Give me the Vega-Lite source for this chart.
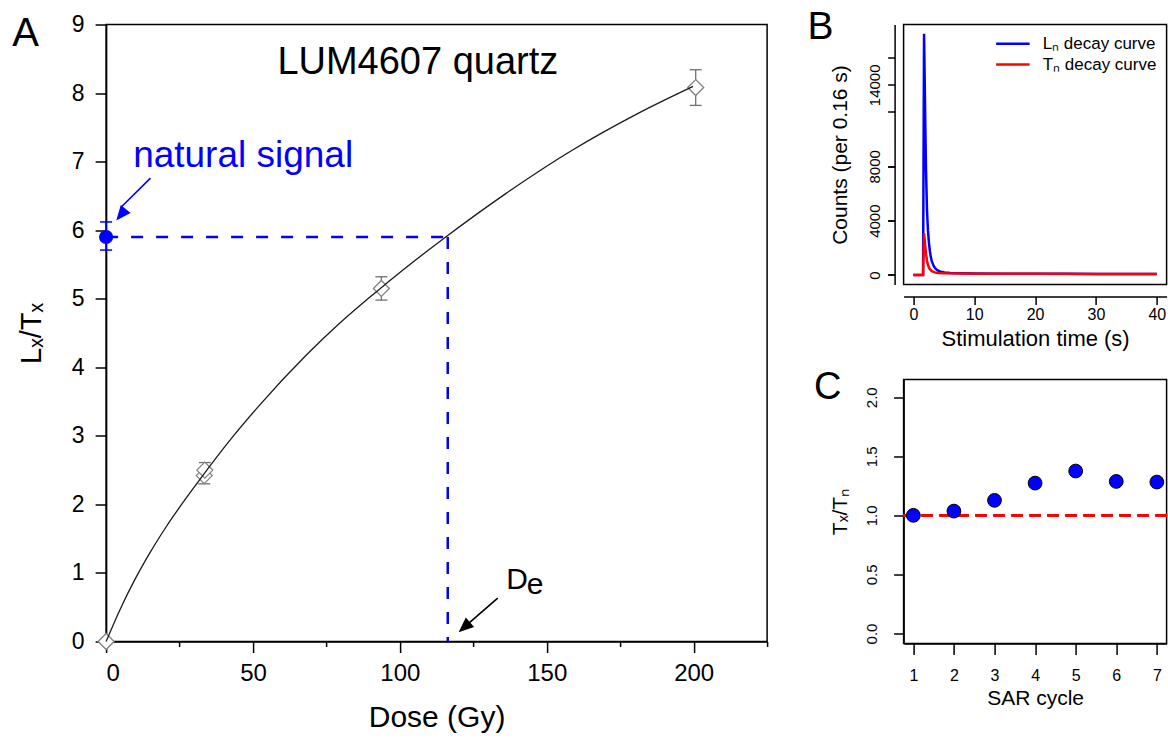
{
  "$schema": "https://vega.github.io/schema/vega-lite/v6.json",
  "background": "white",
  "padding": {"left": 11.1, "top": 6.5, "right": 0, "bottom": 0},
  "bounds": "flush",
  "spacing": 136.5,
  "config": {
    "font": "Liberation Sans",
    "view": {"stroke": "black", "strokeWidth": 1.5},
    "axis": {
      "grid": false,
      "domainColor": "black",
      "tickColor": "black",
      "labelColor": "black",
      "titleColor": "black",
      "titleFontWeight": "normal",
      "domainWidth": 1.5,
      "tickWidth": 1.5
    },
    "title": {"fontWeight": "normal", "color": "black"}
  },
  "datasets": {
    "fitCurve": [
      {"dose": 0, "ratio": 0},
      {"dose": 5, "ratio": 0.49},
      {"dose": 10, "ratio": 0.92},
      {"dose": 15, "ratio": 1.3},
      {"dose": 20.4, "ratio": 1.67},
      {"dose": 31.7, "ratio": 2.35},
      {"dose": 43.0, "ratio": 2.98},
      {"dose": 52.1, "ratio": 3.44},
      {"dose": 68.0, "ratio": 4.171},
      {"dose": 79.3, "ratio": 4.634},
      {"dose": 90.6, "ratio": 5.052},
      {"dose": 101.9, "ratio": 5.448},
      {"dose": 115.5, "ratio": 5.897},
      {"dose": 135.8, "ratio": 6.526},
      {"dose": 158.5, "ratio": 7.162},
      {"dose": 181.1, "ratio": 7.704},
      {"dose": 199.8, "ratio": 8.097}
    ],
    "regenPoints": [
      {"dose": 0, "ratio": 0, "lo": -0.03, "hi": 0.03},
      {"dose": 33.4, "ratio": 2.42, "lo": 2.3, "hi": 2.52},
      {"dose": 33.6, "ratio": 2.5, "lo": 2.4, "hi": 2.61},
      {"dose": 93.7, "ratio": 5.15, "lo": 4.98, "hi": 5.32},
      {"dose": 200.7, "ratio": 8.08, "lo": 7.82, "hi": 8.34}
    ],
    "natural": [
      {"De": 116.3, "Ln": 5.9, "lo": 5.71, "hi": 6.12, "origin": 0}
    ],
    "decay": [
      {"t": 0, "counts": 0, "curve": "Ln"},
      {"t": 1.6, "counts": 0, "curve": "Ln"},
      {"t": 1.76, "counts": 17750, "curve": "Ln"},
      {"t": 1.92, "counts": 12500, "curve": "Ln"},
      {"t": 2.08, "counts": 7800, "curve": "Ln"},
      {"t": 2.24, "counts": 4800, "curve": "Ln"},
      {"t": 2.4, "counts": 3300, "curve": "Ln"},
      {"t": 2.56, "counts": 2400, "curve": "Ln"},
      {"t": 2.72, "counts": 1750, "curve": "Ln"},
      {"t": 2.88, "counts": 1300, "curve": "Ln"},
      {"t": 3.04, "counts": 1000, "curve": "Ln"},
      {"t": 3.36, "counts": 650, "curve": "Ln"},
      {"t": 3.68, "counts": 450, "curve": "Ln"},
      {"t": 4.0, "counts": 330, "curve": "Ln"},
      {"t": 4.48, "counts": 240, "curve": "Ln"},
      {"t": 5.12, "counts": 180, "curve": "Ln"},
      {"t": 6.08, "counts": 150, "curve": "Ln"},
      {"t": 8.0, "counts": 125, "curve": "Ln"},
      {"t": 10.08, "counts": 110, "curve": "Ln"},
      {"t": 15.04, "counts": 100, "curve": "Ln"},
      {"t": 20.0, "counts": 90, "curve": "Ln"},
      {"t": 25.12, "counts": 85, "curve": "Ln"},
      {"t": 30.08, "counts": 80, "curve": "Ln"},
      {"t": 35.04, "counts": 75, "curve": "Ln"},
      {"t": 40.0, "counts": 70, "curve": "Ln"},
      {"t": 0, "counts": 0, "curve": "Tn"},
      {"t": 1.6, "counts": 0, "curve": "Tn"},
      {"t": 1.76, "counts": 3080, "curve": "Tn"},
      {"t": 1.92, "counts": 2300, "curve": "Tn"},
      {"t": 2.08, "counts": 1550, "curve": "Tn"},
      {"t": 2.24, "counts": 1050, "curve": "Tn"},
      {"t": 2.4, "counts": 750, "curve": "Tn"},
      {"t": 2.56, "counts": 560, "curve": "Tn"},
      {"t": 2.72, "counts": 430, "curve": "Tn"},
      {"t": 3.04, "counts": 280, "curve": "Tn"},
      {"t": 3.52, "counts": 190, "curve": "Tn"},
      {"t": 4.0, "counts": 150, "curve": "Tn"},
      {"t": 5.12, "counts": 120, "curve": "Tn"},
      {"t": 10.08, "counts": 95, "curve": "Tn"},
      {"t": 20.0, "counts": 85, "curve": "Tn"},
      {"t": 30.08, "counts": 80, "curve": "Tn"},
      {"t": 40.0, "counts": 75, "curve": "Tn"}
    ],
    "sensitivity": [
      {"cycle": 1, "ratio": 1.0},
      {"cycle": 2, "ratio": 1.036},
      {"cycle": 3, "ratio": 1.127},
      {"cycle": 4, "ratio": 1.273},
      {"cycle": 5, "ratio": 1.375},
      {"cycle": 6, "ratio": 1.287},
      {"cycle": 7, "ratio": 1.282}
    ]
  },
  "hconcat": [
    {
      "width": 661,
      "height": 617,
      "title": {"text": "A", "anchor": "start", "frame": "bounds", "fontSize": 40, "offset": -40, "dx": -5},
      "data": {"name": "natural"},
      "resolve": {"axis": {"x": "independent"}},
      "layer": [
        {
          "layer": [
            {
              "data": {"name": "regenPoints"},
              "mark": {"type": "rule", "color": "#707070", "strokeWidth": 1.3},
              "encoding": {
                "x": {"field": "dose", "type": "quantitative", "scale": {"domain": [0, 225], "nice": false, "zero": false},
                  "axis": {"values": [0, 50, 100, 150, 200], "tickSize": 11, "labelFontSize": 24, "labelPadding": 9, "title": "Dose (Gy)", "titleFontSize": 30, "titlePadding": 17}},
                "y": {"field": "lo", "type": "quantitative", "scale": {"domain": [0, 9], "nice": false, "zero": false},
                  "axis": {"values": [0, 1, 2, 3, 4, 5, 6, 7, 8, 9], "format": "d", "tickSize": 11, "labelFontSize": 23, "labelPadding": 11, "title": "Lₓ/Tₓ", "titleFontSize": 29, "titlePadding": 25}},
                "y2": {"field": "hi"}
              }
            },
            {
              "data": {"name": "regenPoints"},
              "mark": {"type": "point", "shape": "stroke", "size": 144, "stroke": "#707070", "strokeWidth": 1.3, "opacity": 1},
              "encoding": {
                "x": {"field": "dose", "type": "quantitative"},
                "y": {"field": "lo", "type": "quantitative"}
              }
            },
            {
              "data": {"name": "regenPoints"},
              "mark": {"type": "point", "shape": "stroke", "size": 144, "stroke": "#707070", "strokeWidth": 1.3, "opacity": 1},
              "encoding": {
                "x": {"field": "dose", "type": "quantitative"},
                "y": {"field": "hi", "type": "quantitative"}
              }
            },
            {
              "data": {"name": "regenPoints"},
              "mark": {"type": "point", "shape": "diamond", "size": 256, "filled": false, "fill": "white", "fillOpacity": 1, "stroke": "#808080", "strokeWidth": 1.3, "opacity": 1},
              "encoding": {
                "x": {"field": "dose", "type": "quantitative"},
                "y": {"field": "ratio", "type": "quantitative"}
              }
            },
            {
              "data": {"name": "fitCurve"},
              "mark": {"type": "line", "color": "#1a1a1a", "strokeWidth": 1.3, "interpolate": "monotone"},
              "encoding": {
                "x": {"field": "dose", "type": "quantitative"},
                "y": {"field": "ratio", "type": "quantitative"}
              }
            },
            {
              "mark": {"type": "rule", "color": "#0000FF", "strokeWidth": 2.5, "strokeDash": [12, 13]},
              "encoding": {
                "x": {"field": "origin", "type": "quantitative"},
                "x2": {"field": "De"},
                "y": {"field": "Ln", "type": "quantitative"}
              }
            },
            {
              "mark": {"type": "rule", "color": "#0000FF", "strokeWidth": 2.5, "strokeDash": [12, 13]},
              "encoding": {
                "x": {"field": "De", "type": "quantitative"},
                "y": {"field": "Ln", "type": "quantitative"},
                "y2": {"field": "origin"}
              }
            },
            {
              "mark": {"type": "rule", "color": "#0000FF", "strokeWidth": 1.5},
              "encoding": {
                "x": {"field": "origin", "type": "quantitative"},
                "y": {"field": "lo", "type": "quantitative"},
                "y2": {"field": "hi"}
              }
            },
            {
              "mark": {"type": "point", "shape": "stroke", "size": 144, "stroke": "#0000FF", "strokeWidth": 1.5, "opacity": 1},
              "encoding": {
                "x": {"field": "origin", "type": "quantitative"},
                "y": {"field": "lo", "type": "quantitative"}
              }
            },
            {
              "mark": {"type": "point", "shape": "stroke", "size": 144, "stroke": "#0000FF", "strokeWidth": 1.5, "opacity": 1},
              "encoding": {
                "x": {"field": "origin", "type": "quantitative"},
                "y": {"field": "hi", "type": "quantitative"}
              }
            },
            {
              "mark": {"type": "point", "shape": "circle", "size": 200, "filled": true, "color": "#0000FF", "opacity": 1},
              "encoding": {
                "x": {"field": "origin", "type": "quantitative"},
                "y": {"field": "Ln", "type": "quantitative"}
              }
            },
            {
              "mark": {"type": "rule", "color": "#0000FF", "strokeWidth": 1.6},
              "encoding": {
                "x": {"datum": 15.1},
                "y": {"datum": 6.76},
                "x2": {"datum": 5.0},
                "y2": {"datum": 6.33}
              }
            },
            {
              "mark": {"type": "point", "shape": "M0,0L-0.42,1L0.42,1Z", "size": 900, "filled": true, "color": "#0000FF", "opacity": 1, "angle": 219},
              "encoding": {
                "x": {"datum": 3.46},
                "y": {"datum": 6.14}
              }
            },
            {
              "mark": {"type": "rule", "color": "black", "strokeWidth": 1.6},
              "encoding": {
                "x": {"datum": 133.3},
                "y": {"datum": 0.632},
                "x2": {"datum": 123.0},
                "y2": {"datum": 0.25}
              }
            },
            {
              "mark": {"type": "point", "shape": "M0,0L-0.42,1L0.42,1Z", "size": 900, "filled": true, "color": "black", "opacity": 1, "angle": 229},
              "encoding": {
                "x": {"datum": 120.0},
                "y": {"datum": 0.136}
              }
            },
            {
              "mark": {"type": "text", "text": "LUM4607 quartz", "fontSize": 38, "align": "center", "baseline": "alphabetic", "color": "black"},
              "encoding": {
                "x": {"datum": 106.1},
                "y": {"datum": 8.28}
              }
            },
            {
              "mark": {"type": "text", "text": "natural signal", "fontSize": 37, "align": "left", "baseline": "alphabetic", "color": "#0000FF"},
              "encoding": {
                "x": {"datum": 9.2},
                "y": {"datum": 6.92}
              }
            },
            {
              "mark": {"type": "text", "text": "D", "fontSize": 30, "align": "left", "baseline": "alphabetic", "color": "black"},
              "encoding": {
                "x": {"datum": 136.2},
                "y": {"datum": 0.767}
              }
            },
            {
              "mark": {"type": "text", "text": "e", "fontSize": 30, "align": "left", "baseline": "alphabetic", "color": "black"},
              "encoding": {
                "x": {"datum": 143.2},
                "y": {"datum": 0.686}
              }
            }
          ]
        },
        {
          "data": {"name": "regenPoints"},
          "mark": {"type": "point", "opacity": 0},
          "encoding": {
            "x": {"field": "dose", "type": "quantitative",
              "axis": {"orient": "bottom", "values": [25, 75, 125, 175, 225], "tickSize": 5, "labels": false, "domain": false, "title": null}}
          }
        }
      ]
    },
    {
      "vconcat": [
        {
          "width": 263,
          "height": 260,
          "title": {"text": "B", "anchor": "start", "frame": "bounds", "fontSize": 39, "offset": -22, "dx": -22},
          "data": {"name": "decay"},
          "resolve": {"axis": {"y": "independent"}},
          "layer": [
            {
              "layer": [
                {
                  "mark": {"type": "line", "strokeWidth": 2.5, "interpolate": "linear"},
                  "encoding": {
                    "x": {"field": "t", "type": "quantitative", "scale": {"domain": [-1.6, 41.6], "nice": false, "zero": false},
                      "axis": {"values": [0, 5, 10, 15, 20, 25, 30, 35, 40], "labelExpr": "datum.value == 15 || datum.value == 25 || datum.value == 35 ? '' : datum.label", "offset": 12, "tickSize": 8, "labelFontSize": 16, "labelPadding": 2, "title": "Stimulation time (s)", "titleFontSize": 22, "titlePadding": 5.5}},
                    "y": {"field": "counts", "type": "quantitative", "scale": {"domain": [-700, 18440], "nice": false, "zero": false},
                      "axis": {"values": [0, 2000, 4000, 6000, 8000, 10000, 12000, 14000, 16000, 18000], "labels": false, "offset": 9, "tickSize": 7, "title": null}},
                    "color": {"field": "curve", "type": "nominal", "scale": {"domain": ["Ln", "Tn"], "range": ["#0000FF", "#FF0000"]}, "legend": null}
                  }
                },
                {
                  "data": {"values": [{}]},
                  "mark": {"type": "rule", "color": "#0000FF", "strokeWidth": 2.5},
                  "encoding": {"x": {"datum": 13.6}, "x2": {"datum": 19.1}, "y": {"datum": 17020}}
                },
                {
                  "data": {"values": [{}]},
                  "mark": {"type": "rule", "color": "#FF0000", "strokeWidth": 2.5},
                  "encoding": {"x": {"datum": 13.6}, "x2": {"datum": 19.1}, "y": {"datum": 15490}}
                },
                {
                  "data": {"values": [{}]},
                  "mark": {"type": "text", "text": "Lₙ  decay curve", "fontSize": 17, "align": "left", "baseline": "middle", "color": "black"},
                  "encoding": {"x": {"datum": 21.25}, "y": {"datum": 17020}}
                },
                {
                  "data": {"values": [{}]},
                  "mark": {"type": "text", "text": "Tₙ  decay curve", "fontSize": 17, "align": "left", "baseline": "middle", "color": "black"},
                  "encoding": {"x": {"datum": 21.25}, "y": {"datum": 15490}}
                }
              ]
            },
            {
              "mark": {"type": "point", "opacity": 0},
              "encoding": {
                "y": {"field": "counts", "type": "quantitative",
                  "axis": {"orient": "left", "values": [0, 4000, 8000, 14000], "format": "d", "labelAngle": -90, "offset": 9, "tickSize": 7, "domain": false, "labelFontSize": 15, "labelPadding": 5, "title": "Counts (per 0.16 s)", "titleFontSize": 21, "titlePadding": 17}}
              }
            }
          ]
        },
        {
          "width": 263,
          "height": 264,
          "title": {"text": "C", "anchor": "start", "frame": "bounds", "fontSize": 38, "offset": -28, "dx": -15},
          "data": {"name": "sensitivity"},
          "layer": [
            {
              "mark": {"type": "rule", "color": "#FF0000", "strokeWidth": 2.5, "strokeDash": [11, 7]},
              "encoding": {"y": {"datum": 1}}
            },
            {
              "mark": {"type": "point", "shape": "circle", "size": 190, "filled": true, "fill": "#0000FF", "stroke": "black", "strokeWidth": 1, "opacity": 1},
              "encoding": {
                "x": {"field": "cycle", "type": "quantitative", "scale": {"domain": [0.76, 7.24], "nice": false, "zero": false},
                  "axis": {"values": [1, 2, 3, 4, 5, 6, 7], "tickSize": 11, "labelFontSize": 16, "labelPadding": 13, "title": "SAR cycle", "titleFontSize": 21, "titlePadding": 4}},
                "y": {"field": "ratio", "type": "quantitative", "scale": {"domain": [-0.085, 2.15], "nice": false, "zero": false},
                  "axis": {"values": [0, 0.5, 1, 1.5, 2], "format": ".1f", "labelAngle": -90, "tickSize": 10, "labelFontSize": 15, "labelPadding": 14, "title": "Tₓ/Tₙ", "titleFontSize": 21, "titlePadding": 14.5}}
              }
            }
          ]
        }
      ],
      "spacing": 95,
      "bounds": "flush"
    }
  ]
}
